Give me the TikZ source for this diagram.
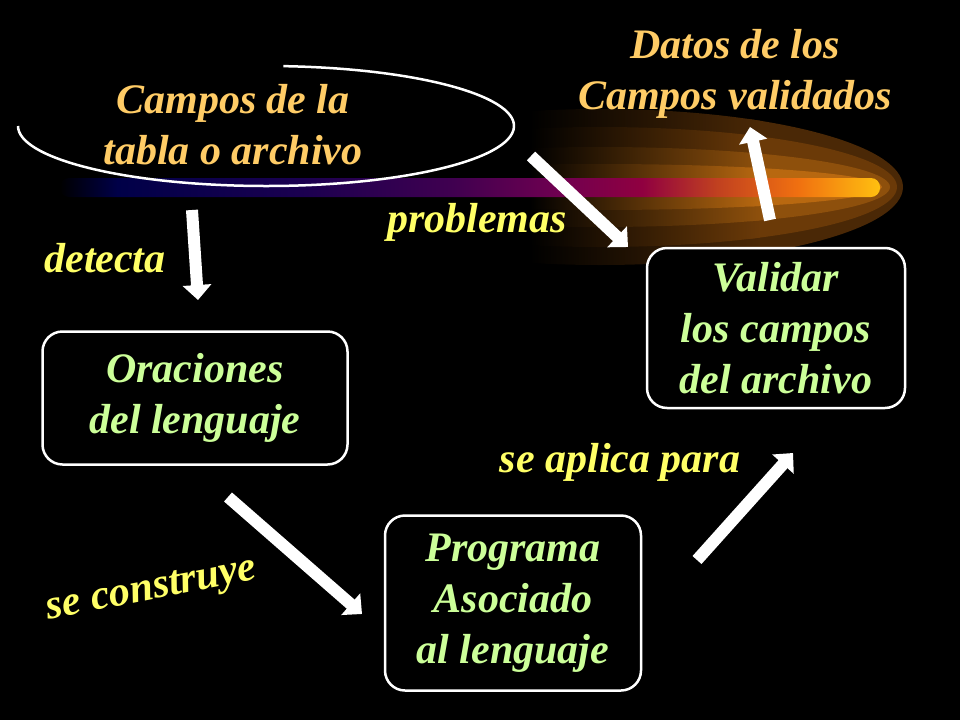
\documentclass[tikz,border=0pt]{standalone}
\usepackage{fontspec}
\setmainfont{Liberation Serif}
\usepackage{tikz}
\usetikzlibrary{arrows.meta, positioning}

\definecolor{orangetxt}{HTML}{FFCC66}
\definecolor{yellowtxt}{HTML}{FFFF66}
\definecolor{greentxt}{HTML}{CCFF99}
\definecolor{glowa}{HTML}{4A2806}
\definecolor{glowb}{HTML}{6B3A08}
\definecolor{glowc}{HTML}{8E500C}
\definecolor{glowd}{HTML}{B86810}
\definecolor{cometa}{HTML}{000048}
\definecolor{cometb}{HTML}{1A0050}
\definecolor{cometc}{HTML}{400050}
\definecolor{cometd}{HTML}{700050}
\definecolor{comete}{HTML}{900040}
\definecolor{cometf}{HTML}{C04020}
\definecolor{cometg}{HTML}{F07010}
\definecolor{cometh}{HTML}{FFC010}
% tikz fits the middle half (25bp..75bp) of a shading to the path
\pgfdeclarehorizontalshading{comet}{100bp}{color(0bp)=(black); color(25bp)=(black);
  color(28.5bp)=(cometa); color(39.5bp)=(cometb); color(49bp)=(cometc); color(55.5bp)=(cometd);
  color(60.5bp)=(comete); color(65bp)=(cometf); color(70bp)=(cometg); color(75bp)=(cometh);
  color(100bp)=(cometh)}

\tikzstyle{box} = [draw=white, line width=2.5pt, rounded corners=20pt, fill=black, text=greentxt, align=center]
\tikzstyle{title} = [text=orangetxt, align=center]
\tikzstyle{lbl} = [text=yellowtxt]
\tikzstyle{bigarrow} = [white, line width=12pt, -{Triangle[length=15pt,width=28pt]}]

\begin{document}
\begin{tikzpicture}[x=1pt, y=-1pt, every node/.style={font=\fontsize{42}{51}\selectfont\bfseries\itshape}]
  \fill[black] (0,0) rectangle (960,720);
  \useasboundingbox (0,0) rectangle (960,720);

  % glow behind the comet
  \foreach \rx/\ry/\col in {303/78/glowa, 297/60/glowb, 290/40/glowc, 282/23/glowd} {
    \begin{scope}
      \clip (600,187) ellipse [x radius=\rx, y radius=\ry];
      \fill[\col] (750,90) rectangle (910,290);
      \shade[left color=black, right color=\col] (530,90) rectangle (760,290);
    \end{scope}
  }
  \shade[shading=comet, rounded corners=9pt] (60,178) rectangle (880,197);

  % titles
  \node[title] (campos) at (233,125) {Campos de la\\tabla o archivo};
  \node[title] (datos) at (735,74) {Datos de los\\Campos validados};
  \draw[white, line width=2.5pt] (266,126) ++(-86:248 and 60)
    arc[start angle=-86, end angle=180, x radius=248, y radius=60];

  % boxes
  \node[box, minimum width=305pt, minimum height=133pt] (oraciones) at (195,398) {Oraciones\\del lenguaje};
  \node[box, minimum width=258pt, minimum height=160pt] (validar) at (776,328) {Validar\\los campos\\del archivo};
  \node[box, minimum width=256pt, minimum height=175pt] (programa) at (513,603) {Programa\\Asociado\\al lenguaje};

  % labels
  \node[lbl] (detecta) at (105,258) {detecta};
  \node[lbl] (problemas) at (477,222) {problemas};
  \node[lbl] (aplica) at (620,462) {se aplica para};
  \node[lbl, rotate=11] (construye) at (152,592) {se construye};

  % arrows
  \coordinate (a1) at (192,210); \coordinate (b1) at (198,300);
  \coordinate (a2) at (531,156); \coordinate (b2) at (628,247);
  \coordinate (a3) at (770,220); \coordinate (b3) at (750,127);
  \coordinate (a4) at (228,497); \coordinate (b4) at (362,614);
  \coordinate (a5) at (697,560); \coordinate (b5) at (793,453);
  \draw[bigarrow] (a1) -- (b1);
  \draw[bigarrow] (a2) -- (b2);
  \draw[bigarrow] (a3) -- (b3);
  \draw[bigarrow] (a4) -- (b4);
  \draw[bigarrow] (a5) -- (b5);
\end{tikzpicture}
\end{document}
